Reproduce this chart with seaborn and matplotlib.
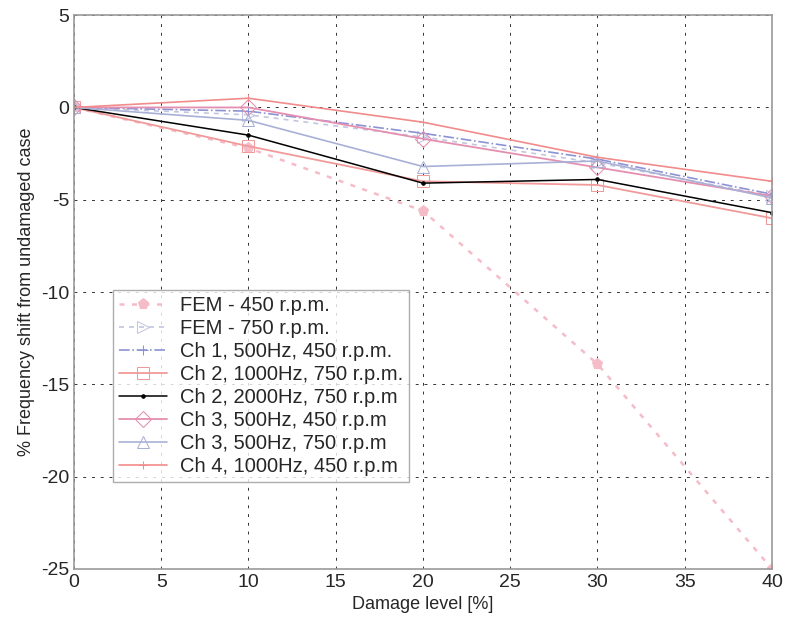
import matplotlib
matplotlib.use("Agg")
import matplotlib.pyplot as plt
import seaborn as sns

# -- data --
damage = [0, 10, 20, 30, 40]
fem_450 = [0, -2.2, -5.6, -13.9, -25.0]
fem_750 = [0, -0.4, -1.6, -3.0, -4.8]
ch1_500_450 = [0, -0.2, -1.4, -2.8, -4.7]
ch2_1000_750 = [0, -2.1, -4.0, -4.2, -6.0]
ch2_2000_750 = [0, -1.5, -4.1, -3.9, -5.7]
ch3_500_450 = [0, 0.0, -1.7, -3.25, -4.8]
ch3_500_750 = [0, -0.7, -3.2, -2.9, -4.9]
ch4_1000_450 = [0, 0.5, -0.8, -2.7, -4.0]

labels = ["FEM - 450 r.p.m.", "FEM - 750 r.p.m.", "Ch 1, 500Hz, 450 r.p.m.",
          "Ch 2, 1000Hz, 750 r.p.m.", "Ch 2, 2000Hz, 750 r.p.m",
          "Ch 3, 500Hz, 450 r.p.m", "Ch 3, 500Hz, 750 r.p.m",
          "Ch 4, 1000Hz, 450 r.p.m"]
series = [fem_450, fem_750, ch1_500_450, ch2_1000_750, ch2_2000_750,
          ch3_500_450, ch3_500_750, ch4_1000_450]

# style per series: colour, linestyle, marker, marker size, open marker, width
styles = [
    ("#f5bcc8", (0, (2, 3)), "p", 8, False, 1.8),
    ("#c2c6de", (0, (3, 3)), ">", 8, True, 1.2),
    ("#8c93d4", "-.", "+", 7, False, 1.2),
    ("#f19a9a", "-", "s", 9, True, 1.3),
    ("#000000", "-", ".", 5, False, 1.1),
    ("#e58fb0", "-", "D", 8, True, 1.3),
    ("#a9b0d6", "-", "^", 9, True, 1.2),
    ("#f28b8b", "-", "+", 6, False, 1.2),
]

sns.set_style("white")
plt.rcParams['font.family'] = ['Liberation Sans', 'DejaVu Sans']
plt.rcParams['axes.unicode_minus'] = False

fig = plt.figure(figsize=(7.93, 6.31), dpi=100)
ax = fig.add_axes([0.0933, 0.0983, 0.8802, 0.8777])

for vals, lab, (col, ls, mk, ms, hollow, lw) in zip(series, labels, styles):
    sns.lineplot(x=damage, y=vals, ax=ax, color=col, linestyle=ls, marker=mk,
                 markersize=ms, markeredgecolor=col,
                 markerfacecolor="none" if hollow else col,
                 linewidth=lw, label=lab)

ax.set_xlim(0, 40)
ax.set_ylim(-25, 5)
ax.set_xticks(range(0, 41, 5))
ax.set_yticks(range(-25, 6, 5))
ax.grid(True, color="#333333", linestyle=(0, (3, 6)), linewidth=0.7)
ax.tick_params(direction="in", labelsize=14, length=4, color="#888888")
for sp in ax.spines.values():
    sp.set_color("#999999")
    sp.set_linewidth(1.2)

ax.set_xlabel("Damage level [%]", fontsize=13)
ax.set_ylabel("% Frequency shift from undamaged case", fontsize=13)

leg = ax.legend(loc="upper left", bbox_to_anchor=(0.056, 0.504), fontsize=14.5,
                frameon=True, fancybox=False, handlelength=2.4,
                borderpad=0.3, labelspacing=0.2, handletextpad=0.6,
                borderaxespad=0)
leg.get_frame().set_edgecolor("#999999")
leg.get_frame().set_linewidth(1.0)

fig.savefig("out.png", dpi=100)
